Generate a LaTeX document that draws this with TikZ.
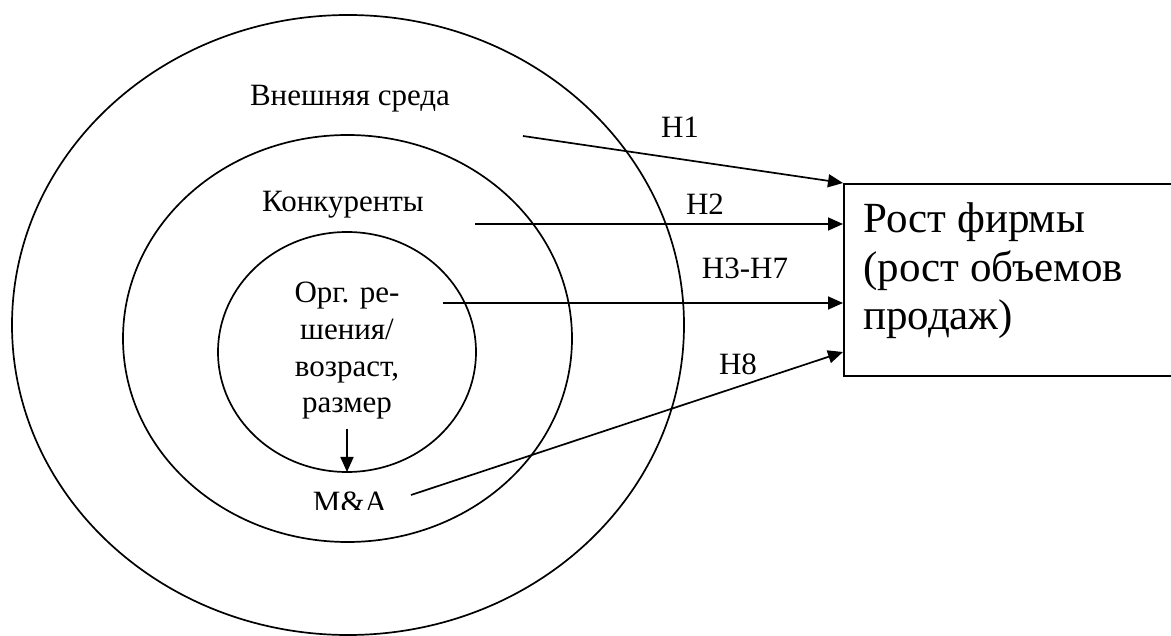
\documentclass[tikz,border=0pt]{standalone}
\usepackage{fontspec}
\setmainfont{Liberation Serif}
\newfontfamily\tnr{Liberation Serif}
\usetikzlibrary{shapes.geometric,arrows.meta}
\tikzset{
  ring/.style={ellipse,draw,line width=1.7pt,inner sep=0pt,outer sep=0pt},
  lbl/.style={font=\tnr\fontsize{31}{36.7}\selectfont,inner sep=0pt,anchor=base},
  conn/.style={line width=1.7pt,-{Triangle[length=15pt,width=13pt]}},
  boxtext/.style={font=\tnr\fontsize{43}{48.5}\selectfont,inner sep=0pt,anchor=base west,align=left}
}
\begin{document}
\begin{tikzpicture}[x=1pt,y=-1pt]
\useasboundingbox (0,0) rectangle (1171,636);
% rings
\node[ring,minimum width=672pt,minimum height=620pt] (outer) at (348,325) {};
\node[ring,minimum width=449pt,minimum height=407pt] (middle) at (347.5,338.5) {};
\node[ring,minimum width=258pt,minimum height=240pt] (inner) at (347,352) {};
% box (right side runs off the page)
\node[draw,line width=1.7pt,inner sep=0pt,minimum width=340pt,minimum height=192pt,anchor=north west] (box) at (843,183) {};
\node[boxtext] (boxt) at (863,330) {Рост фирмы\\(рост объемов\\продаж)};
% labels
\node[lbl] (ext) at (350,106) {Внешняя среда};
\node[lbl] (comp) at (343,212) {Конкуренты};
\node[lbl,align=center] (org) at (347,413) {Орг. ре-\\шения/\\возраст,\\размер};
\begin{scope}
\clip (300,480) rectangle (400,509.5);
\node[lbl] (ma) at (350,512) {M\&A};
\end{scope}
\node[lbl] (h1) at (680,138) {H1};
\node[lbl] (h2) at (705,215) {H2};
\node[lbl] (h3) at (745,279) {H3-H7};
\node[lbl] (h8) at (738,375) {H8};
% connector start points
\coordinate (s1) at (523,136);
\coordinate (s2) at (475,224);
\coordinate (s3) at (443,303);
\coordinate (s8) at (411,495);
\coordinate (e8) at (843,352);
\coordinate (sv) at (347,429);
% connectors
\draw[conn] (s1) -- (box.north west);
\draw[conn] (s2) -- (s2 -| box.west);
\draw[conn] (s3) -- (s3 -| box.west);
\draw[conn] (s8) -- (e8);
\draw[conn] (sv) -- (inner.south);
\end{tikzpicture}
\end{document}
